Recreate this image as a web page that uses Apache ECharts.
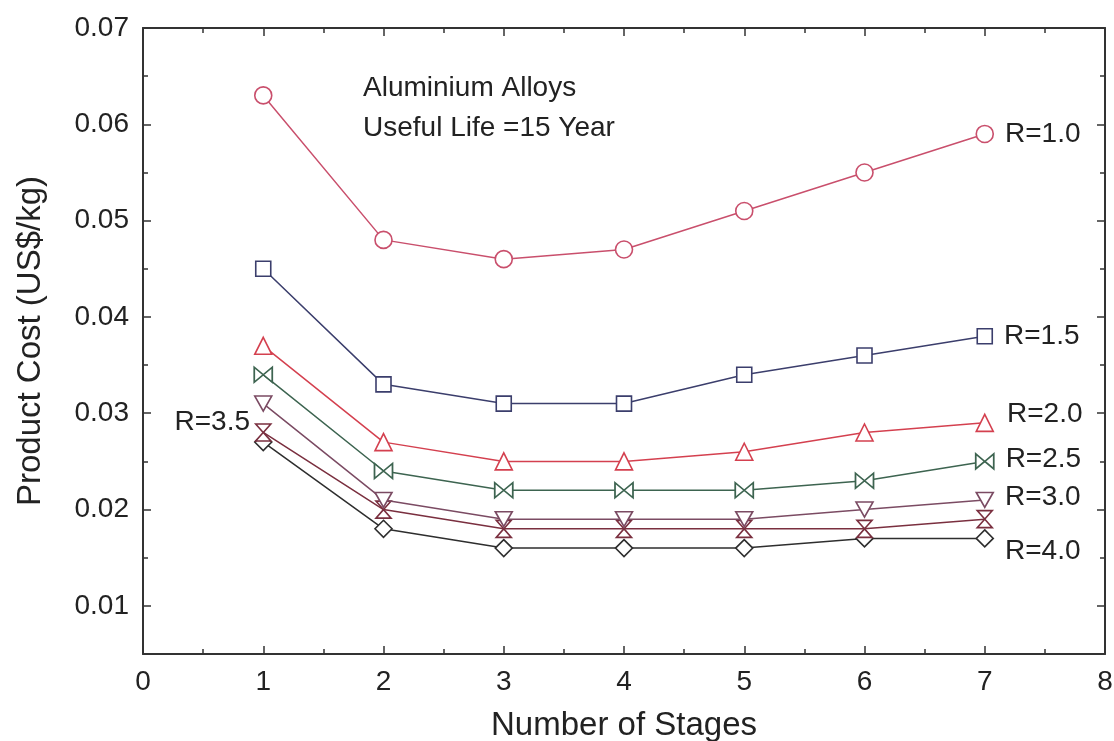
<!DOCTYPE html>
<html><head><meta charset="utf-8">
<script src="https://cdn.jsdelivr.net/npm/echarts@6/dist/echarts.min.js"></script>
<style>html,body{margin:0;padding:0;background:#fff}#c{width:1114px;height:741px}</style>
</head><body><div id="c"></div>
<script>
const stages = [1, 2, 3, 4, 5, 6, 7];
const r10 = [0.063, 0.048, 0.046, 0.047, 0.051, 0.055, 0.059];
const r15 = [0.045, 0.033, 0.031, 0.031, 0.034, 0.036, 0.038];
const r20 = [0.037, 0.027, 0.025, 0.025, 0.026, 0.028, 0.029];
const r25 = [0.034, 0.024, 0.022, 0.022, 0.022, 0.023, 0.025];
const r30 = [0.031, 0.021, 0.019, 0.019, 0.019, 0.020, 0.021];
const r35 = [0.028, 0.020, 0.018, 0.018, 0.018, 0.018, 0.019];
const r40 = [0.027, 0.018, 0.016, 0.016, 0.016, 0.017, 0.017];
const seriesNames = ['R=1.0','R=1.5','R=2.0','R=2.5','R=3.0','R=3.5','R=4.0'];
const yTicks = [0.01, 0.02, 0.03, 0.04, 0.05, 0.06, 0.07];
const yMinorTicks = [0.015, 0.025, 0.035, 0.045, 0.055, 0.065];

const FONT = 'Liberation Sans, Arial, sans-serif';
const TXT = '#222';
const bowtie = 'path://M0,0 L0,10 L10,5 Z M20,0 L20,10 L10,5 Z';
const hourglass = 'path://M0,0 L10,0 L5,5 Z M0,10 L10,10 L5,5 Z';
const downTri = 'path://M0,0 L12,0 L6,10 Z';

const styles = [
  {data: r10, color: '#c94f6c', symbol: 'circle', size: 17, labelIdx: 6, pos: 'right', off: [6, 0]},
  {data: r15, color: '#3b3e6c', symbol: 'rect', size: 15, labelIdx: 6, pos: 'right', off: [6, 0]},
  {data: r20, color: '#d4404f', symbol: 'triangle', size: 17, labelIdx: 6, pos: 'right', off: [8, -9]},
  {data: r25, color: '#3d6450', symbol: bowtie, size: [18, 15], labelIdx: 6, pos: 'right', off: [6, -2]},
  {data: r30, color: '#7b4b63', symbol: downTri, size: [17, 15], labelIdx: 6, pos: 'right', off: [6, -3]},
  {data: r35, color: '#7a2f3f', symbol: hourglass, size: [15, 17], labelIdx: 0, pos: 'left', off: [0, -10]},
  {data: r40, color: '#2e2e2e', symbol: 'diamond', size: 17, labelIdx: 6, pos: 'right', off: [6, 13]}
];

const series = styles.map((s, k) => ({
  name: seriesNames[k],
  type: 'line',
  xAxisIndex: 0, yAxisIndex: 0,
  symbol: s.symbol,
  symbolSize: s.size,
  showAllSymbol: true,
  lineStyle: {color: s.color, width: 1.5},
  itemStyle: {color: '#fff', borderColor: s.color, borderWidth: 1.6},
  z: 10 - k,
  data: s.data.map((v, i) => {
    const d = {value: [stages[i], v]};
    if (i === s.labelIdx) {
      d.label = {show: true, formatter: seriesNames[k], position: s.pos, offset: s.off,
        color: TXT, fontFamily: FONT, fontSize: 28};
    }
    return d;
  }),
  emphasis: {disabled: true},
  animation: false
}));

const axisLine = {show: true, lineStyle: {color: '#333', width: 2}};
const tick = {inside: true, length: 8, lineStyle: {color: '#333', width: 1.5}};
const minorTickY = {show: true, inside: true, length: 5, customValues: yMinorTicks, lineStyle: {color: '#333', width: 1.5}};
const majorTickY = {show: true, inside: true, length: 8, customValues: yTicks, lineStyle: {color: '#333', width: 1.5}};
const yBase = {type: 'value', min: 0.005, max: 0.07, splitLine: {show: false}};
const chart = echarts.init(document.getElementById('c'));
chart.setOption({
  backgroundColor: '#fff',
  animation: false,
  grid: {left: 143, top: 28, right: 9, bottom: 87, containLabel: false, outerBoundsMode: 'none'},
  xAxis: [
    {type: 'value', min: 0, max: 8, interval: 1, position: 'bottom',
     axisLine, axisTick: tick,
     minorTick: {show: true, splitNumber: 2, length: 5, lineStyle: {color: '#333', width: 1.5}},
     splitLine: {show: false},
     axisLabel: {color: TXT, fontFamily: FONT, fontSize: 28, margin: 14},
     name: 'Number of Stages', nameLocation: 'middle', nameGap: 55,
     nameTextStyle: {color: TXT, fontFamily: FONT, fontSize: 33}},
    {type: 'value', min: 0, max: 8, interval: 1, position: 'top',
     axisLine, axisTick: tick,
     minorTick: {show: true, splitNumber: 2, length: 5, lineStyle: {color: '#333', width: 1.5}},
     splitLine: {show: false}, axisLabel: {show: false}}
  ],
  yAxis: [
    Object.assign({}, yBase, {position: 'left', axisLine, axisTick: majorTickY,
     axisLabel: {color: TXT, fontFamily: FONT, fontSize: 28, margin: 14, customValues: yTicks,
       formatter: v => v.toFixed(2)},
     name: 'Product Cost (US$/kg)', nameLocation: 'middle', nameGap: 96, nameRotate: 90,
     nameTextStyle: {color: TXT, fontFamily: FONT, fontSize: 33}}),
    Object.assign({}, yBase, {position: 'left', axisLine: {show: false}, axisTick: minorTickY, axisLabel: {show: false}}),
    Object.assign({}, yBase, {position: 'right', axisLine, axisTick: majorTickY, axisLabel: {show: false}}),
    Object.assign({}, yBase, {position: 'right', axisLine: {show: false}, axisTick: minorTickY, axisLabel: {show: false}})
  ],
  graphic: [
    {type: 'text', left: 363, top: 74, style: {text: 'Aluminium Alloys', fill: TXT, font: '28px ' + FONT}},
    {type: 'text', left: 363, top: 114, style: {text: 'Useful Life =15 Year', fill: TXT, font: '28px ' + FONT}}
  ],
  series
});
</script></body></html>
